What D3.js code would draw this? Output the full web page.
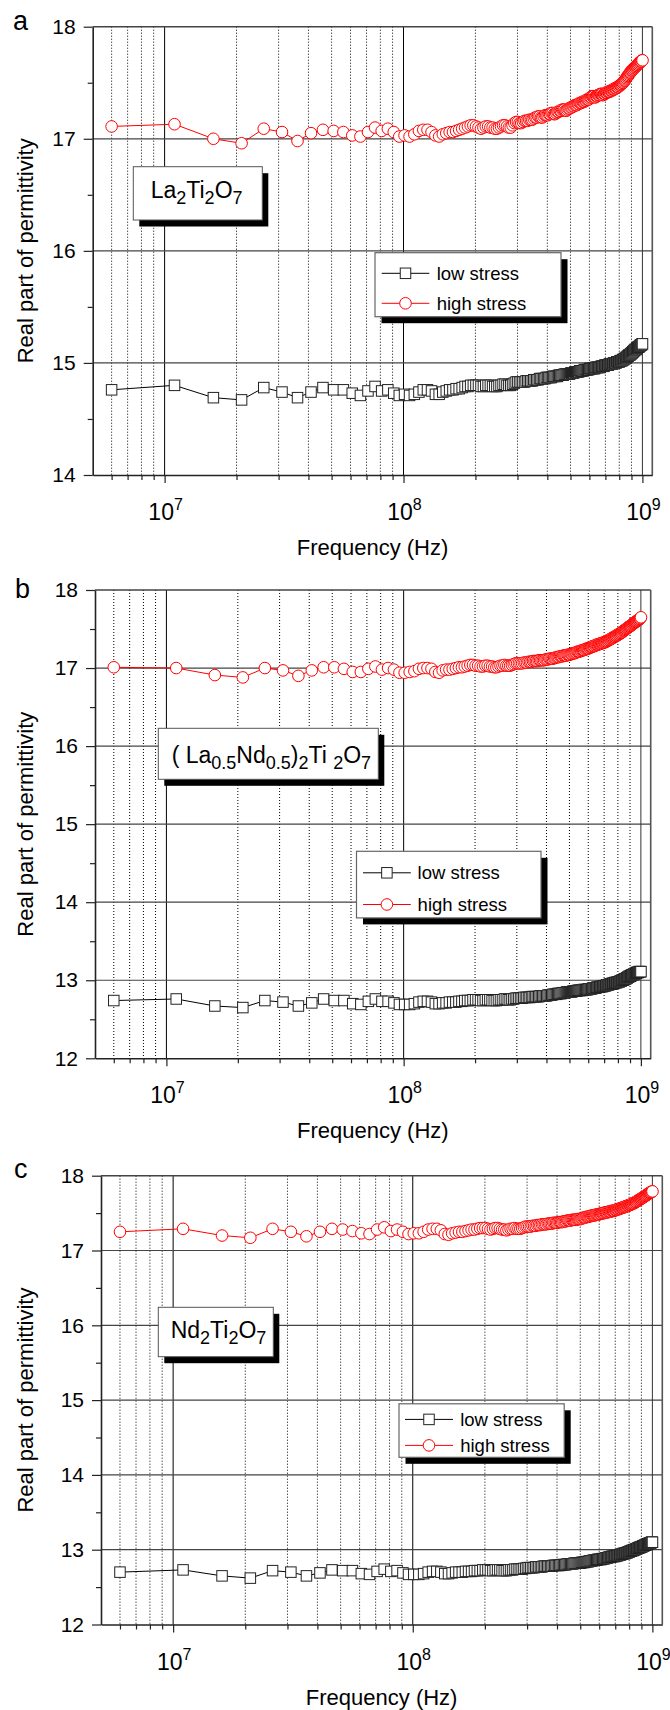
<!DOCTYPE html>
<html>
<head>
<meta charset="utf-8">
<script src="https://cdn.jsdelivr.net/npm/d3@7"></script>
<style>
  body { margin: 0; background: #fff; }
  svg text { font-family: "Liberation Sans", Arial, Helvetica, sans-serif; fill: #000; }
</style>
</head>
<body>
<svg id="chart" width="670" height="1710"></svg>
<script>
// --- data: frequency sweep (MHz) and real permittivity ---
const freqMHz = [
  6,11,16,21,26,31,36,41,46,51, 56,61,66,71,76,81,86,91,96,101,
  106,111,116,121,126,131,136,141,146,151, 156,161,166,171,176,181,186,191,196,201,
  206,211,216,221,226,231,236,241,246,251, 256,261,266,271,276,281,286,291,296,301,
  306,311,316,321,326,331,336,341,346,351, 356,361,366,371,376,381,386,391,396,401,
  406,411,416,421,426,431,436,441,446,451, 456,461,466,471,476,481,486,491,496,501,
  506,511,516,521,526,531,536,541,546,551, 556,561,566,571,576,581,586,591,596,601,
  606,611,616,621,626,631,636,641,646,651, 656,661,666,671,676,681,686,691,696,701,
  706,711,716,721,726,731,736,741,746,751, 756,761,766,771,776,781,786,791,796,801,
  806,811,816,821,826,831,836,841,846,851, 856,861,866,871,876,881,886,891,896,901,
  906,911,916,921,926,931,936,941,946,951, 956,961,966,971,976,981,986,991,996,1001
];

// (a) La2Ti2O7
const laHigh = [
  17.11,17.13,17.00,16.96,17.09,17.06,16.98,17.05,17.08,17.07, 17.06,17.03,17.02,17.06,17.10,17.07,17.09,17.06,17.02,17.03,
  17.02,17.04,17.07,17.08,17.08,17.06,17.03,17.02,17.04,17.05, 17.06,17.06,17.07,17.08,17.09,17.10,17.11,17.12,17.12,17.11,
  17.10,17.09,17.10,17.11,17.11,17.10,17.10,17.09,17.09,17.10, 17.11,17.12,17.12,17.11,17.10,17.10,17.12,17.14,17.15,17.15,
  17.14,17.14,17.15,17.16,17.16,17.16,17.17,17.17,17.17,17.18, 17.19,17.19,17.20,17.20,17.19,17.19,17.20,17.21,17.21,17.21,
  17.22,17.22,17.23,17.23,17.22,17.22,17.23,17.24,17.24,17.25, 17.25,17.26,17.26,17.26,17.25,17.25,17.26,17.27,17.27,17.28,
  17.28,17.29,17.29,17.30,17.30,17.30,17.31,17.31,17.32,17.32, 17.32,17.33,17.33,17.33,17.34,17.34,17.35,17.35,17.35,17.36,
  17.37,17.37,17.38,17.38,17.38,17.37,17.37,17.38,17.38,17.39, 17.39,17.39,17.40,17.40,17.40,17.39,17.39,17.40,17.40,17.41,
  17.41,17.41,17.42,17.42,17.42,17.42,17.43,17.43,17.43,17.44, 17.44,17.44,17.45,17.45,17.45,17.46,17.46,17.46,17.47,17.47,
  17.48,17.48,17.49,17.49,17.50,17.50,17.51,17.52,17.52,17.53, 17.54,17.55,17.56,17.56,17.57,17.58,17.59,17.59,17.60,17.61,
  17.61,17.62,17.62,17.63,17.63,17.64,17.64,17.65,17.65,17.66, 17.66,17.67,17.67,17.68,17.68,17.69,17.69,17.69,17.70,17.70
];
const laLow = [
  14.76,14.80,14.69,14.67,14.78,14.74,14.69,14.74,14.78,14.76, 14.76,14.73,14.71,14.75,14.79,14.75,14.76,14.73,14.71,14.72,
  14.71,14.72,14.74,14.76,14.76,14.75,14.72,14.72,14.74,14.75, 14.76,14.76,14.77,14.77,14.78,14.79,14.79,14.80,14.80,14.80,
  14.80,14.79,14.79,14.80,14.80,14.80,14.79,14.79,14.79,14.80, 14.80,14.81,14.81,14.80,14.80,14.80,14.81,14.82,14.83,14.83,
  14.83,14.83,14.83,14.83,14.84,14.84,14.84,14.84,14.84,14.85, 14.85,14.85,14.85,14.86,14.86,14.86,14.86,14.86,14.87,14.87,
  14.87,14.87,14.87,14.88,14.88,14.88,14.88,14.88,14.89,14.89, 14.89,14.89,14.89,14.90,14.90,14.90,14.90,14.90,14.90,14.91,
  14.91,14.91,14.91,14.92,14.92,14.92,14.92,14.92,14.93,14.93, 14.93,14.93,14.93,14.94,14.94,14.94,14.94,14.94,14.94,14.95,
  14.95,14.95,14.95,14.95,14.95,14.95,14.96,14.96,14.96,14.96, 14.96,14.96,14.96,14.97,14.97,14.97,14.97,14.97,14.98,14.98,
  14.98,14.98,14.98,14.98,14.99,14.99,14.99,14.99,14.99,14.99, 15.00,15.00,15.00,15.00,15.00,15.01,15.01,15.01,15.01,15.01,
  15.02,15.02,15.02,15.02,15.03,15.03,15.03,15.04,15.04,15.04, 15.05,15.05,15.06,15.06,15.07,15.07,15.07,15.08,15.08,15.09,
  15.09,15.10,15.10,15.11,15.11,15.12,15.12,15.12,15.13,15.13, 15.14,15.14,15.14,15.15,15.15,15.16,15.16,15.16,15.17,15.17
];

// (b) (La0.5Nd0.5)2Ti2O7
const mixHigh = [
  17.01,17.00,16.91,16.88,17.00,16.97,16.90,16.97,17.01,17.01, 16.99,16.95,16.95,16.99,17.02,16.98,17.00,16.98,16.94,16.94,
  16.95,16.96,16.99,17.00,17.00,16.99,16.95,16.94,16.97,16.98, 16.98,16.99,17.00,17.01,17.01,17.02,17.03,17.04,17.04,17.03,
  17.03,17.02,17.02,17.03,17.03,17.02,17.02,17.01,17.01,17.02, 17.03,17.03,17.04,17.03,17.03,17.03,17.04,17.05,17.06,17.06,
  17.06,17.06,17.06,17.07,17.07,17.07,17.08,17.08,17.08,17.09, 17.09,17.09,17.09,17.10,17.10,17.10,17.10,17.10,17.11,17.11,
  17.11,17.12,17.12,17.12,17.12,17.13,17.13,17.14,17.14,17.14, 17.15,17.15,17.15,17.16,17.16,17.16,17.16,17.17,17.17,17.17,
  17.18,17.18,17.19,17.19,17.19,17.20,17.20,17.21,17.21,17.21, 17.22,17.22,17.23,17.23,17.23,17.24,17.24,17.25,17.25,17.25,
  17.26,17.26,17.27,17.27,17.28,17.28,17.28,17.29,17.29,17.30, 17.30,17.30,17.31,17.31,17.31,17.32,17.32,17.32,17.33,17.33,
  17.33,17.34,17.34,17.35,17.35,17.36,17.36,17.37,17.37,17.38, 17.38,17.39,17.39,17.40,17.40,17.41,17.41,17.42,17.42,17.43,
  17.43,17.44,17.44,17.45,17.45,17.46,17.46,17.47,17.48,17.48, 17.49,17.49,17.50,17.51,17.51,17.52,17.52,17.53,17.53,17.54,
  17.54,17.55,17.56,17.56,17.57,17.57,17.58,17.58,17.59,17.59, 17.60,17.60,17.61,17.61,17.62,17.62,17.63,17.63,17.64,17.65
];
const mixLow = [
  12.74,12.76,12.67,12.65,12.74,12.72,12.67,12.71,12.76,12.74, 12.74,12.70,12.69,12.73,12.76,12.73,12.73,12.71,12.69,12.69,
  12.69,12.70,12.72,12.73,12.73,12.72,12.70,12.70,12.71,12.71, 12.72,12.72,12.72,12.73,12.73,12.74,12.74,12.74,12.75,12.75,
  12.75,12.74,12.74,12.75,12.75,12.75,12.74,12.74,12.74,12.75, 12.75,12.75,12.76,12.76,12.75,12.75,12.76,12.76,12.77,12.77,
  12.77,12.77,12.77,12.78,12.78,12.78,12.78,12.78,12.79,12.79, 12.79,12.79,12.79,12.79,12.80,12.80,12.80,12.80,12.80,12.80,
  12.81,12.81,12.81,12.81,12.82,12.82,12.82,12.82,12.83,12.83, 12.83,12.83,12.84,12.84,12.84,12.84,12.85,12.85,12.85,12.85,
  12.85,12.85,12.86,12.86,12.86,12.86,12.86,12.87,12.87,12.87, 12.87,12.87,12.87,12.88,12.88,12.88,12.88,12.88,12.88,12.89,
  12.89,12.89,12.89,12.89,12.90,12.90,12.90,12.90,12.90,12.91, 12.91,12.91,12.91,12.91,12.92,12.92,12.92,12.92,12.93,12.93,
  12.93,12.93,12.94,12.94,12.94,12.94,12.95,12.95,12.95,12.95, 12.96,12.96,12.96,12.96,12.97,12.97,12.97,12.97,12.98,12.98,
  12.98,12.98,12.99,12.99,12.99,13.00,13.00,13.00,13.01,13.01, 13.02,13.02,13.02,13.03,13.03,13.04,13.04,13.05,13.05,13.05,
  13.06,13.06,13.07,13.07,13.07,13.08,13.08,13.08,13.09,13.09, 13.09,13.10,13.10,13.10,13.10,13.11,13.11,13.11,13.11,13.11
];

// (c) Nd2Ti2O7
const ndHigh = [
  17.25,17.29,17.20,17.17,17.29,17.25,17.19,17.25,17.29,17.28, 17.26,17.23,17.22,17.28,17.31,17.26,17.28,17.25,17.22,17.23,
  17.23,17.25,17.28,17.29,17.29,17.27,17.22,17.21,17.23,17.24, 17.25,17.25,17.26,17.27,17.28,17.28,17.29,17.30,17.30,17.30,
  17.29,17.28,17.29,17.30,17.30,17.29,17.28,17.28,17.27,17.28, 17.29,17.29,17.30,17.29,17.29,17.29,17.30,17.31,17.32,17.32,
  17.32,17.32,17.33,17.33,17.33,17.34,17.34,17.34,17.35,17.35, 17.35,17.35,17.36,17.36,17.36,17.36,17.37,17.37,17.37,17.37,
  17.38,17.38,17.38,17.38,17.39,17.39,17.39,17.40,17.40,17.40, 17.40,17.41,17.41,17.41,17.41,17.41,17.42,17.42,17.42,17.42,
  17.43,17.43,17.44,17.44,17.44,17.45,17.45,17.45,17.46,17.46, 17.46,17.47,17.47,17.47,17.47,17.48,17.48,17.48,17.48,17.49,
  17.49,17.49,17.50,17.50,17.50,17.50,17.51,17.51,17.51,17.51, 17.52,17.52,17.52,17.52,17.53,17.53,17.53,17.53,17.54,17.54,
  17.54,17.55,17.55,17.55,17.56,17.56,17.56,17.57,17.57,17.57, 17.58,17.58,17.58,17.59,17.59,17.59,17.60,17.60,17.60,17.61,
  17.61,17.61,17.62,17.62,17.63,17.63,17.63,17.64,17.64,17.65, 17.65,17.66,17.66,17.67,17.67,17.68,17.68,17.69,17.69,17.70,
  17.70,17.71,17.71,17.72,17.72,17.73,17.73,17.74,17.74,17.75, 17.75,17.76,17.76,17.77,17.77,17.78,17.78,17.78,17.79,17.79
];
const ndLow = [
  12.70,12.73,12.65,12.62,12.72,12.70,12.65,12.69,12.73,12.72, 12.72,12.68,12.67,12.71,12.74,12.71,12.72,12.69,12.67,12.67,
  12.67,12.68,12.70,12.71,12.71,12.70,12.68,12.68,12.69,12.70, 12.70,12.70,12.71,12.71,12.71,12.72,12.72,12.72,12.73,12.73,
  12.73,12.72,12.72,12.73,12.73,12.73,12.72,12.72,12.72,12.73, 12.73,12.73,12.74,12.74,12.74,12.74,12.74,12.75,12.75,12.76,
  12.76,12.76,12.76,12.76,12.77,12.77,12.77,12.77,12.77,12.78, 12.78,12.78,12.78,12.78,12.78,12.78,12.79,12.79,12.79,12.79,
  12.79,12.79,12.80,12.80,12.80,12.80,12.80,12.81,12.81,12.81, 12.81,12.81,12.81,12.82,12.82,12.82,12.82,12.82,12.82,12.82,
  12.83,12.83,12.83,12.83,12.84,12.84,12.84,12.84,12.85,12.85, 12.85,12.85,12.86,12.86,12.86,12.86,12.86,12.87,12.87,12.87,
  12.87,12.87,12.88,12.88,12.88,12.88,12.89,12.89,12.89,12.89, 12.90,12.90,12.90,12.90,12.91,12.91,12.91,12.91,12.91,12.92,
  12.92,12.92,12.92,12.93,12.93,12.93,12.93,12.94,12.94,12.94, 12.95,12.95,12.95,12.95,12.96,12.96,12.96,12.97,12.97,12.97,
  12.98,12.98,12.98,12.99,12.99,12.99,13.00,13.00,13.00,13.01, 13.01,13.01,13.02,13.02,13.02,13.03,13.03,13.03,13.04,13.04,
  13.04,13.05,13.05,13.05,13.06,13.06,13.06,13.07,13.07,13.07, 13.08,13.08,13.08,13.09,13.09,13.09,13.09,13.10,13.10,13.10
];

const seriesNames = ["low stress", "high stress"];
const xMajorTicks = [1e7, 1e8, 1e9];
const xMinorTicks = [6e6,7e6,8e6,9e6, 2e7,3e7,4e7,5e7,6e7,7e7,8e7,9e7, 2e8,3e8,4e8,5e8,6e8,7e8,8e8,9e8];
const xDomain = [5e6, 1.1e9];

// compound labels: [text, isSubscript]
const formulaLa = [["La",0],["2",1],["Ti",0],["2",1],["O",0],["7",1]];
const formulaMix = [["( La",0],["0.5",1],["Nd",0],["0.5",1],[")",0],["2",1],["Ti ",0],["2",1],["O",0],["7",1]];
const formulaNd = [["Nd",0],["2",1],["Ti",0],["2",1],["O",0],["7",1]];

// --- layout of the three panels ---
const panels = [
  { letter: "a", low: laLow, high: laHigh, yMin: 14, formula: formulaLa,
    plot: { l: 92.7, r: 652.3, t: 26.7, b: 475 }, letterPos: [13, 30],
    box: { x: 133.3, y: 166.7, w: 129, h: 53.3, tx: 150.7, ty: 198 },
    legend: { x: 375, y: 252.7, w: 186, h: 64, r1: 20.6, r2: 50.6, lx: 6.7, lw: 47.6, tx: 61.7 } },
  { letter: "b", low: mixLow, high: mixHigh, yMin: 12, formula: formulaMix,
    plot: { l: 95, r: 650.7, t: 590, b: 1058.3 }, letterPos: [15, 598.3],
    box: { x: 158.3, y: 728.3, w: 220, h: 51, tx: 171.7, ty: 762.5 },
    legend: { x: 356.5, y: 851.3, w: 184.5, h: 66.6, r1: 21.5, r2: 53.2, lx: 6.5, lw: 47.8, tx: 61.1 } },
  { letter: "c", low: ndLow, high: ndHigh, yMin: 12, formula: formulaNd,
    plot: { l: 101, r: 662.3, t: 1175.7, b: 1624.5 }, letterPos: [14, 1178],
    box: { x: 158.3, y: 1307.3, w: 115, h: 49.4, tx: 170.7, ty: 1338 },
    legend: { x: 399, y: 1403.8, w: 165.2, h: 53.5, r1: 15.6, r2: 41.6, lx: 6, lw: 48, tx: 61.2 } }
];

const svg = d3.select("#chart");
const RED = "#ff0000";
const SQ = 10.5, CR = 5.8;

function drawSquare(g, x, y) {
  g.append("rect").attr("x", x - SQ / 2).attr("y", y - SQ / 2)
    .attr("width", SQ).attr("height", SQ)
    .attr("fill", "#fff").attr("stroke", "#222").attr("stroke-width", 1);
}
function drawCircle(g, x, y) {
  g.append("circle").attr("cx", x).attr("cy", y).attr("r", CR)
    .attr("fill", "#fff").attr("stroke", RED).attr("stroke-width", 1);
}
function writeFormula(g, parts, x, y, size, subSize) {
  const t = g.append("text").attr("x", x).attr("y", y).attr("font-size", size);
  let prevSub = false;
  parts.forEach(([s, sub]) => {
    const ts = t.append("tspan").text(s);
    if (sub) { ts.attr("font-size", subSize); if (!prevSub) ts.attr("dy", 6); }
    else if (prevSub) ts.attr("dy", -6);
    prevSub = !!sub;
  });
}

panels.forEach(p => {
  const { l, r, t, b } = p.plot;
  const x = d3.scaleLog().domain(xDomain).range([l, r]);
  const y = d3.scaleLinear().domain([p.yMin, 18]).range([b, t]);
  const g = svg.append("g");
  const yMajor = d3.range(p.yMin, 18.01, 1);
  const yMinor = d3.range(p.yMin + 0.5, 18, 1);

  // grid
  g.append("g").selectAll("line").data(xMinorTicks).join("line")
    .attr("x1", d => x(d)).attr("x2", d => x(d)).attr("y1", t).attr("y2", b)
    .attr("stroke", "#000").attr("stroke-width", 1).attr("stroke-dasharray", "1,2");
  g.append("g").selectAll("line").data(xMajorTicks.slice(0, 2)).join("line")
    .attr("x1", d => x(d)).attr("x2", d => x(d)).attr("y1", t).attr("y2", b)
    .attr("stroke", "#000").attr("stroke-width", 1);
  g.append("g").selectAll("line").data(yMajor.slice(1, -1)).join("line")
    .attr("x1", l).attr("x2", r).attr("y1", d => y(d)).attr("y2", d => y(d))
    .attr("stroke", "#444").attr("stroke-width", 1.2);

  // frame (top and right)
  g.append("line").attr("x1", l).attr("x2", r).attr("y1", t).attr("y2", t)
    .attr("stroke", "#444").attr("stroke-width", 1.6);
  g.append("line").attr("x1", r).attr("x2", r).attr("y1", t).attr("y2", b)
    .attr("stroke", "#555").attr("stroke-width", 1.6);
  g.append("line").attr("x1", x(1e9)).attr("x2", x(1e9)).attr("y1", t).attr("y2", b)
    .attr("stroke", "#333").attr("stroke-width", 1);

  // y axis
  const yAx = g.append("g").attr("transform", `translate(${l},0)`)
    .call(d3.axisLeft(y).tickValues(yMajor).tickSize(9).tickSizeOuter(0).tickFormat(d3.format("d")));
  g.append("g").attr("transform", `translate(${l},0)`)
    .call(d3.axisLeft(y).tickValues(yMinor).tickSize(5).tickSizeOuter(0).tickFormat(""))
    .select(".domain").remove();
  yAx.select(".domain").attr("stroke", "#222").attr("stroke-width", 1.6);
  yAx.selectAll(".tick text").attr("font-size", 21).attr("font-family", null).attr("x", -17);
  g.selectAll(".tick line").attr("stroke", "#222").attr("stroke-width", 1.2);

  // x axis
  const xAx = g.append("g").attr("transform", `translate(0,${b})`)
    .call(d3.axisBottom(x).tickValues(xMajorTicks).tickSize(8).tickSizeOuter(0).tickFormat(""));
  xAx.select(".domain").attr("stroke", "#222").attr("stroke-width", 1.6);
  g.append("g").attr("transform", `translate(0,${b})`)
    .call(d3.axisBottom(x).tickValues(xMinorTicks).tickSize(5).tickSizeOuter(0).tickFormat(""))
    .select(".domain").remove();
  g.selectAll(".tick line").attr("stroke", "#222").attr("stroke-width", 1.2);

  xMajorTicks.forEach(v => {
    const lab = g.append("text").attr("x", x(v) + 1).attr("y", b + 45)
      .attr("text-anchor", "middle").attr("font-size", 23);
    lab.append("tspan").text("10");
    lab.append("tspan").text(Math.round(Math.log10(v))).attr("font-size", 16).attr("dy", -10);
  });

  // axis titles and panel letter
  g.append("text").attr("x", (l + r) / 2).attr("y", b + 80)
    .attr("text-anchor", "middle").attr("font-size", 22).text("Frequency (Hz)");
  g.append("text").attr("transform", `translate(33,${(t + b) / 2}) rotate(-90)`)
    .attr("text-anchor", "middle").attr("font-size", 22).text("Real part of permittivity");
  g.append("text").attr("x", p.letterPos[0]).attr("y", p.letterPos[1])
    .attr("font-size", 27).text(p.letter);

  // series
  const line = d3.line().x((d, i) => x(freqMHz[i] * 1e6)).y(d => y(d));
  g.append("path").datum(p.low).attr("d", line)
    .attr("fill", "none").attr("stroke", "#000").attr("stroke-width", 1);
  const lowG = g.append("g");
  p.low.forEach((v, i) => drawSquare(lowG, x(freqMHz[i] * 1e6), y(v)));
  g.append("path").datum(p.high).attr("d", line)
    .attr("fill", "none").attr("stroke", RED).attr("stroke-width", 1);
  const highG = g.append("g");
  p.high.forEach((v, i) => drawCircle(highG, x(freqMHz[i] * 1e6), y(v)));

  // compound label box
  const bx = p.box;
  g.append("rect").attr("x", bx.x + 6).attr("y", bx.y + 6.5).attr("width", bx.w).attr("height", bx.h).attr("fill", "#000");
  g.append("rect").attr("x", bx.x).attr("y", bx.y).attr("width", bx.w).attr("height", bx.h)
    .attr("fill", "#fff").attr("stroke", "#555").attr("stroke-width", 1);
  writeFormula(g, p.formula, bx.tx, bx.ty, 23, 18);

  // legend
  const lg = p.legend;
  g.append("rect").attr("x", lg.x + 6.5).attr("y", lg.y + 6.5).attr("width", lg.w).attr("height", lg.h).attr("fill", "#000");
  g.append("rect").attr("x", lg.x).attr("y", lg.y).attr("width", lg.w).attr("height", lg.h)
    .attr("fill", "#fff").attr("stroke", "#666").attr("stroke-width", 1.2);
  [lg.r1, lg.r2].forEach((ry, k) => {
    const yy = lg.y + ry, x0 = lg.x + lg.lx;
    g.append("line").attr("x1", x0).attr("x2", x0 + lg.lw).attr("y1", yy).attr("y2", yy)
      .attr("stroke", k ? RED : "#000").attr("stroke-width", 1);
    if (k) drawCircle(g, x0 + lg.lw / 2, yy); else drawSquare(g, x0 + lg.lw / 2, yy);
    g.append("text").attr("x", lg.x + lg.tx).attr("y", yy + 6.5)
      .attr("font-size", 18.5).text(seriesNames[k]);
  });
});
</script>
</body>
</html>
